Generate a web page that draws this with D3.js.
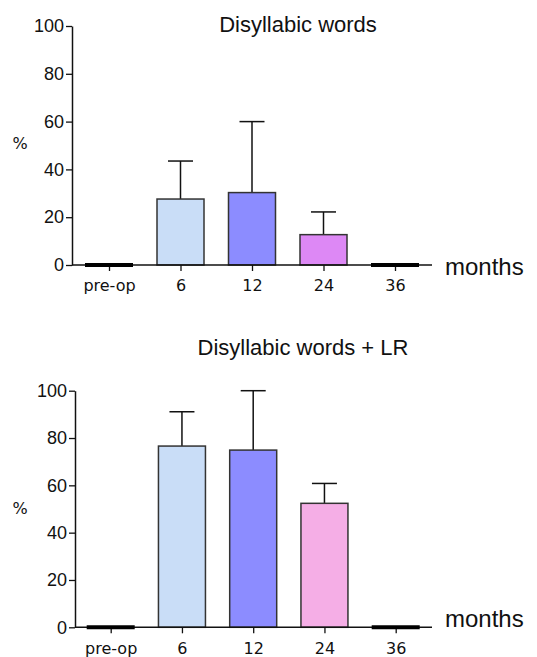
<!DOCTYPE html>
<html>
<head>
<meta charset="utf-8">
<script src="https://cdn.jsdelivr.net/npm/d3@7"></script>
<style>
  body { margin: 0; background: #fff; }
  svg { display: block; }
</style>
</head>
<body>
<svg id="chart" width="537" height="657"></svg>
<script>
// chart values
var categories = ["pre-op", "6", "12", "24", "36"];
var yTicks = [0, 20, 40, 60, 80, 100];

var wordsMean = [0, 27.6, 30.3, 12.7, 0];
var wordsSd = [0, 15.9, 29.7, 9.5, 0];

var lrMean = [0, 76.6, 74.9, 52.4, 0];
var lrSd = [0, 14.5, 25.1, 8.4, 0];

var wordsColors = ["#000", "#c9ddf7", "#8c8cff", "#dd88f5", "#000"];
var lrColors = ["#000", "#c9ddf7", "#8c8cff", "#f5aee6", "#000"];

var svg = d3.select("#chart");

function drawPanel(opt) {
    var g = svg.append("g");

    var x = d3.scalePoint().domain(categories).range([opt.x0, opt.x1]);
    var y = d3.scaleLinear().domain([0, 100]).range([opt.yBottom, opt.yTop]);
    var barW = 47;

    var rows = categories.map(function (c, i) {
        return { cat: c, mean: opt.mean[i], sd: opt.sd[i], color: opt.colors[i] };
    });

    // error bars (upper only)
    var eb = g.selectAll("g.err").data(rows.filter(function (d) { return d.sd > 0; }))
        .enter().append("g").attr("class", "err");
    eb.append("line")
        .attr("x1", function (d) { return x(d.cat); })
        .attr("x2", function (d) { return x(d.cat); })
        .attr("y1", function (d) { return y(d.mean); })
        .attr("y2", function (d) { return y(d.mean + d.sd); })
        .attr("stroke", "#111").attr("stroke-width", 1.5);
    eb.append("line")
        .attr("x1", function (d) { return x(d.cat) - 12.5; })
        .attr("x2", function (d) { return x(d.cat) + 12.5; })
        .attr("y1", function (d) { return y(d.mean + d.sd); })
        .attr("y2", function (d) { return y(d.mean + d.sd); })
        .attr("stroke", "#111").attr("stroke-width", 1.5);

    // bars
    g.selectAll("rect.bar").data(rows.filter(function (d) { return d.mean > 0; }))
        .enter().append("rect").attr("class", "bar")
        .attr("x", function (d) { return x(d.cat) - barW / 2; })
        .attr("y", function (d) { return y(d.mean); })
        .attr("width", barW)
        .attr("height", function (d) { return y(0) - y(d.mean); })
        .attr("fill", function (d) { return d.color; })
        .attr("stroke", "#333").attr("stroke-width", 1.5);

    // y axis
    var yAxis = g.append("g")
        .attr("transform", "translate(" + opt.axisX + ",0)")
        .call(d3.axisLeft(y).tickValues(yTicks).tickSize(6).tickPadding(2).tickSizeOuter(0));
    yAxis.select(".domain").attr("stroke", "#111").attr("stroke-width", 1.5);
    yAxis.selectAll(".tick line").attr("stroke", "#111").attr("stroke-width", 1.3);
    yAxis.selectAll(".tick text")
        .attr("font-family", "'Liberation Sans', Arial, sans-serif")
        .attr("font-size", 18).attr("fill", "#111");

    // x axis
    var xAxis = g.append("g")
        .attr("transform", "translate(0," + y(0) + ")")
        .call(d3.axisBottom(x).tickSize(6).tickSizeOuter(0).tickPadding(9));
    xAxis.select(".domain").remove();
    xAxis.insert("line", ":first-child")
        .attr("x1", opt.axisX).attr("x2", opt.axisEnd)
        .attr("y1", 0).attr("y2", 0)
        .attr("stroke", "#111").attr("stroke-width", 1.5);
    xAxis.selectAll(".tick line").attr("stroke", "#111").attr("stroke-width", 1.3);
    xAxis.selectAll(".tick text")
        .attr("font-family", "'Comic Sans MS', 'DejaVu Sans', sans-serif")
        .attr("font-size", 16).attr("fill", "#111");

    // zero-height bars as thick lines
    g.selectAll("line.zero").data(rows.filter(function (d) { return d.mean === 0; }))
        .enter().append("line").attr("class", "zero")
        .attr("x1", function (d) { return x(d.cat) - 24; })
        .attr("x2", function (d) { return x(d.cat) + 24; })
        .attr("y1", y(0)).attr("y2", y(0))
        .attr("stroke", "#000").attr("stroke-width", 4);

    // title
    g.append("text")
        .attr("x", opt.titleX).attr("y", opt.titleY)
        .attr("text-anchor", "middle")
        .attr("font-family", "'Liberation Sans', Arial, sans-serif")
        .attr("font-size", 22).attr("fill", "#111")
        .text(opt.title);

    // axis labels
    g.append("text")
        .attr("x", 20).attr("y", opt.pctY)
        .attr("text-anchor", "middle")
        .attr("font-family", "'Comic Sans MS', 'DejaVu Sans', sans-serif")
        .attr("font-size", 16).attr("fill", "#111")
        .text("%");
    g.append("text")
        .attr("x", 445).attr("y", opt.monthsY)
        .attr("font-family", "'Liberation Sans', Arial, sans-serif")
        .attr("font-size", 24).attr("fill", "#111")
        .text("months");
}

drawPanel({
    mean: wordsMean, sd: wordsSd, colors: wordsColors,
    x0: 109, x1: 395, yTop: 26, yBottom: 265,
    axisX: 72, axisEnd: 432,
    title: "Disyllabic words", titleX: 298, titleY: 32,
    pctY: 149, monthsY: 275
});

drawPanel({
    mean: lrMean, sd: lrSd, colors: lrColors,
    x0: 110.7, x1: 395.7, yTop: 390.7, yBottom: 627.3,
    axisX: 75, axisEnd: 432,
    title: "Disyllabic words + LR", titleX: 303, titleY: 355,
    pctY: 514, monthsY: 627
});
</script>
</body>
</html>
